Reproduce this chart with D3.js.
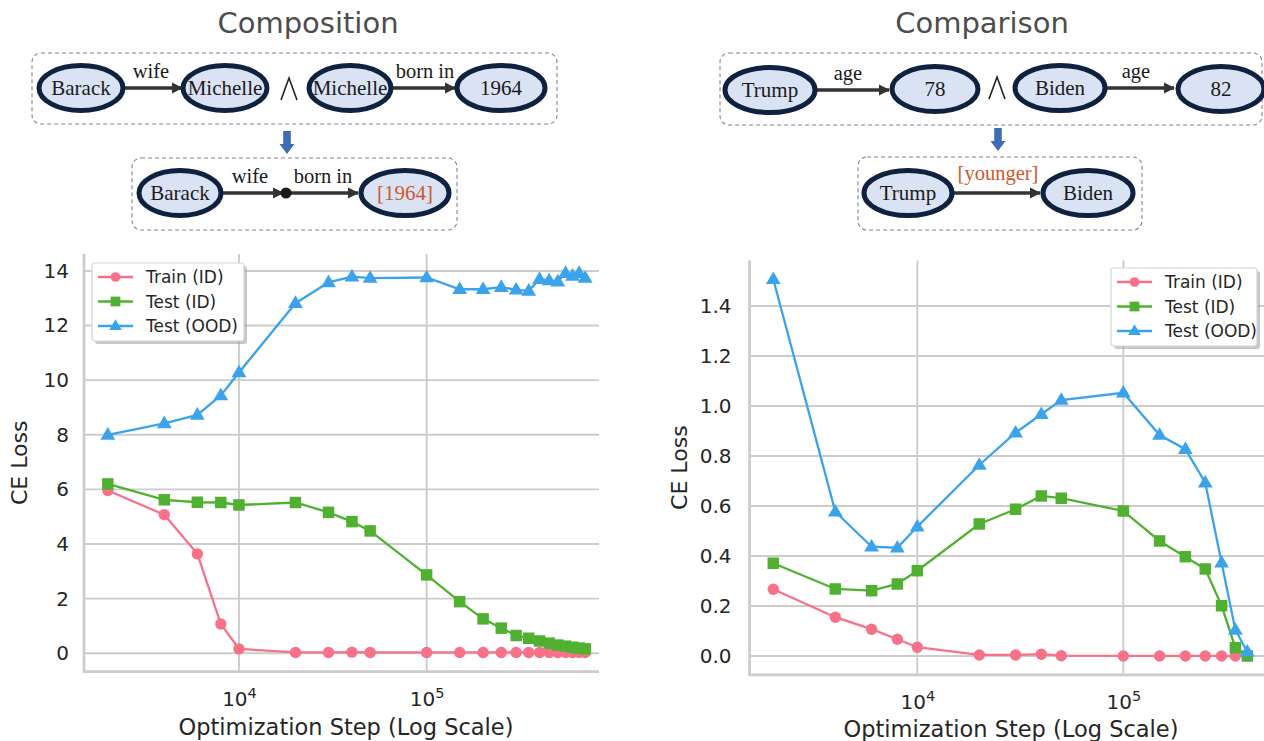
<!DOCTYPE html>
<html>
<head>
<meta charset="utf-8">
<script src="https://cdn.jsdelivr.net/npm/d3@7"></script>
<style>
  html, body { margin: 0; padding: 0; background: #fff; }
  svg { display: block; }
</style>
</head>
<body>
<svg id="fig" width="1264" height="741"></svg>
<script>
// ---- data: CE loss vs optimization step ----
const seriesNames = ["Train (ID)", "Test (ID)", "Test (OOD)"];
const seriesColors = ["#f77189", "#50b131", "#3ba3ec"];
const seriesMarkers = ["circle", "square", "triangle"];

const compSteps = [2000, 4000, 6000, 8000, 10000, 20000, 30000, 40000, 50000, 100000,
  150000, 200000, 250000, 300000, 350000, 400000, 450000, 500000, 550000, 600000, 650000, 700000];
const compTrain = [5.96, 5.07, 3.64, 1.07, 0.16, 0.03, 0.03, 0.04, 0.03, 0.03,
  0.03, 0.03, 0.03, 0.03, 0.03, 0.03, 0.03, 0.03, 0.03, 0.03, 0.03, 0.03];
const compTestID = [6.20, 5.62, 5.53, 5.52, 5.43, 5.52, 5.16, 4.82, 4.48, 2.87,
  1.89, 1.26, 0.92, 0.65, 0.55, 0.45, 0.37, 0.30, 0.26, 0.22, 0.19, 0.16];
const compTestOOD = [8.00, 8.42, 8.73, 9.44, 10.28, 12.82, 13.58, 13.79, 13.74, 13.76,
  13.33, 13.33, 13.41, 13.31, 13.27, 13.70, 13.65, 13.61, 13.92, 13.82, 13.92, 13.74];

const cmpSteps = [2000, 4000, 6000, 8000, 10000, 20000, 30000, 40000, 50000, 100000,
  150000, 200000, 250000, 300000, 350000, 400000];
const cmpTrain = [0.267, 0.155, 0.107, 0.067, 0.035, 0.004, 0.004, 0.007, 0.001, 0.0,
  0.0, 0.0, 0.0, 0.0, 0.0, 0.0];
const cmpTestID = [0.371, 0.268, 0.261, 0.288, 0.341, 0.528, 0.587, 0.640, 0.631, 0.580,
  0.460, 0.397, 0.348, 0.201, 0.033, 0.0];
const cmpTestOOD = [1.507, 0.577, 0.437, 0.433, 0.517, 0.764, 0.893, 0.967, 1.024, 1.053,
  0.884, 0.827, 0.693, 0.373, 0.104, 0.017];

const compYTicks = [0, 2, 4, 6, 8, 10, 12, 14];
const cmpYTicks = [0.0, 0.2, 0.4, 0.6, 0.8, 1.0, 1.2, 1.4];
const xTickValues = [1e4, 1e5];
const xLabel = "Optimization Step (Log Scale)";
const yLabel = "CE Loss";

const svg = d3.select("#fig");
const GRID = "#cccccc", TXT = "#262626";
const chartFont = "DejaVu Sans, sans-serif";
const serif = "Liberation Serif, Times New Roman, serif";

// ---------------- line charts ----------------
function lineChart(cfg) {
  const g = svg.append("g");
  const x = d3.scaleLog().domain(cfg.xDomain).range(cfg.xRange);
  const y = d3.scaleLinear().domain(cfg.yDomain).range(cfg.yRange);
  const x0 = cfg.xRange[0], x1 = cfg.xEnd, [yb, yt] = cfg.yRange;

  const clipId = cfg.id + "-clip";
  g.append("clipPath").attr("id", clipId).append("rect")
    .attr("x", x0).attr("y", yt).attr("width", x1 - x0).attr("height", yb - yt);

  // grid
  const grid = g.append("g");
  grid.selectAll("line.h").data(cfg.yTicks).join("line")
    .attr("x1", x0).attr("x2", x1)
    .attr("y1", d => y(d)).attr("y2", d => y(d))
    .attr("stroke", GRID).attr("stroke-width", 1.9);
  grid.selectAll("line.v").data(xTickValues).join("line")
    .attr("x1", d => x(d)).attr("x2", d => x(d))
    .attr("y1", yb).attr("y2", yt)
    .attr("stroke", GRID).attr("stroke-width", 1.9);

  // spines (left + bottom)
  g.append("line").attr("x1", x0).attr("x2", x0).attr("y1", yt).attr("y2", yb + 1)
    .attr("stroke", GRID).attr("stroke-width", 2.8);
  g.append("line").attr("x1", x0 - 1).attr("x2", x1).attr("y1", yb).attr("y2", yb)
    .attr("stroke", GRID).attr("stroke-width", 2.8);

  // y axis labels
  const yAxis = d3.axisLeft(y).tickValues(cfg.yTicks).tickSize(0).tickPadding(cfg.yPad)
    .tickFormat(cfg.yFormat);
  const ya = g.append("g").attr("transform", `translate(${x0},0)`).call(yAxis);
  ya.select(".domain").remove();
  ya.selectAll("text").attr("font-family", chartFont).attr("font-size", 20).attr("fill", TXT);

  // x axis labels with superscript exponents
  const xAxis = d3.axisBottom(x).tickValues(xTickValues).tickSize(0).tickPadding(20)
    .tickFormat(() => "");
  const xa = g.append("g").attr("transform", `translate(0,${yb})`).call(xAxis);
  xa.select(".domain").remove();
  xa.selectAll(".tick").each(function (d) {
    const t = d3.select(this).select("text")
      .attr("font-family", chartFont).attr("font-size", 20).attr("fill", TXT)
      .attr("dy", "0.71em").attr("y", 20);
    t.text(null);
    t.append("tspan").text("10");
    t.append("tspan").attr("dy", -8).attr("font-size", 14.5).text(Math.round(Math.log10(d)));
  });

  g.append("text").attr("x", cfg.xLabelX).attr("y", cfg.xLabelY)
    .attr("text-anchor", "middle").attr("font-family", chartFont)
    .attr("font-size", 22.5).attr("fill", TXT).text(xLabel);
  g.append("text")
    .attr("transform", `translate(${cfg.yLabelX},${(yb + yt) / 2}) rotate(-90)`)
    .attr("text-anchor", "middle").attr("font-family", chartFont)
    .attr("font-size", 22).attr("fill", TXT).text(yLabel);

  // series
  const plot = g.append("g").attr("clip-path", `url(#${clipId})`);
  const line = d3.line().x(d => x(d[0])).y(d => y(d[1]));
  cfg.series.forEach((vals, i) => {
    const pts = cfg.steps.map((s, k) => [s, vals[k]]);
    const sg = plot.append("g");
    sg.append("path").datum(pts).attr("d", line).attr("fill", "none")
      .attr("stroke", seriesColors[i]).attr("stroke-width", 2.3);
    drawMarkers(sg, pts.map(p => [x(p[0]), y(p[1])]), seriesMarkers[i], seriesColors[i]);
  });

  // legend
  const L = cfg.legend;
  const lg = g.append("g");
  lg.append("rect").attr("x", L.x + 3).attr("y", L.y + 3).attr("width", L.w).attr("height", L.h)
    .attr("rx", 3).attr("fill", "#9a9a9a").attr("opacity", 0.55);
  lg.append("rect").attr("x", L.x).attr("y", L.y).attr("width", L.w).attr("height", L.h)
    .attr("rx", 3).attr("fill", "#ffffff").attr("stroke", "#d6d6d6").attr("stroke-width", 1.2);
  seriesNames.forEach((name, i) => {
    const cy = L.y + 14 + i * 24.5;
    lg.append("line").attr("x1", L.x + 6).attr("x2", L.x + 41).attr("y1", cy).attr("y2", cy)
      .attr("stroke", seriesColors[i]).attr("stroke-width", 2.3);
    drawMarkers(lg, [[L.x + 23.5, cy]], seriesMarkers[i], seriesColors[i], 0.85);
    lg.append("text").attr("x", L.x + 54).attr("y", cy).attr("dy", "0.36em")
      .attr("font-family", chartFont).attr("font-size", 17).attr("fill", TXT).text(name);
  });
}

function drawMarkers(g, pts, kind, color, k = 1) {
  if (kind === "circle") {
    g.selectAll(null).data(pts).join("circle")
      .attr("cx", d => d[0]).attr("cy", d => d[1]).attr("r", 5.7 * k).attr("fill", color);
  } else if (kind === "square") {
    const s = 11.5 * k;
    g.selectAll(null).data(pts).join("rect")
      .attr("x", d => d[0] - s / 2).attr("y", d => d[1] - s / 2)
      .attr("width", s).attr("height", s).attr("fill", color);
  } else {
    const r = 7.8 * k;
    g.selectAll(null).data(pts).join("path")
      .attr("d", d => `M${d[0]},${d[1] - r}L${d[0] + r * 0.95},${d[1] + r * 0.62}L${d[0] - r * 0.95},${d[1] + r * 0.62}Z`)
      .attr("fill", color);
  }
}

lineChart({
  id: "comp",
  steps: compSteps, series: [compTrain, compTestID, compTestOOD],
  xDomain: [Math.pow(10, 3.174), Math.pow(10, 5.972)], xRange: [84, 609], xEnd: 599,
  yDomain: [-0.675, 14.62], yRange: [671.7, 254],
  yTicks: compYTicks, yFormat: d3.format("d"), yPad: 15,
  xLabelX: 346, xLabelY: 735, yLabelX: 27,
  legend: { x: 92, y: 263, w: 152, h: 78 }
});

lineChart({
  id: "cmp",
  steps: cmpSteps, series: [cmpTrain, cmpTestID, cmpTestOOD],
  xDomain: [Math.pow(10, 3.186), Math.pow(10, 5.717)], xRange: [749.6, 1271], xEnd: 1271,
  yDomain: [-0.0754, 1.582], yRange: [674.8, 260.5],
  yTicks: cmpYTicks, yFormat: d3.format(".1f"), yPad: 18,
  xLabelX: 1011, xLabelY: 737, yLabelX: 687,
  legend: { x: 1111, y: 268, w: 146, h: 78 }
});

// ---------------- relation diagrams ----------------
const NODE_FILL = "#dae3f3", NODE_STROKE = "#0e2240", EDGE = "#333333", HILITE = "#cc5a2c";

const defs = svg.append("defs");
defs.append("marker").attr("id", "head").attr("viewBox", "0 0 10 10")
  .attr("refX", 9).attr("refY", 5).attr("markerWidth", 3.4).attr("markerHeight", 3.4)
  .attr("orient", "auto")
  .append("path").attr("d", "M0,0L10,5L0,10Z").attr("fill", EDGE);

function box(x, y, w, h) {
  svg.append("rect").attr("x", x).attr("y", y).attr("width", w).attr("height", h).attr("rx", 9)
    .attr("fill", "none").attr("stroke", "#7f8691").attr("stroke-width", 1.1)
    .attr("stroke-dasharray", "4,3");
}
function node(cx, cy, rx, label, color) {
  svg.append("ellipse").attr("cx", cx).attr("cy", cy).attr("rx", rx).attr("ry", 22.5)
    .attr("fill", NODE_FILL).attr("stroke", NODE_STROKE).attr("stroke-width", 5);
  svg.append("text").attr("x", cx).attr("y", cy).attr("dy", "0.33em").attr("text-anchor", "middle")
    .attr("font-family", serif).attr("font-size", 21).attr("fill", color || "#1a1a1a").text(label);
}
function edge(x1, x2, y, label, lx, ly, color) {
  svg.append("line").attr("x1", x1).attr("x2", x2).attr("y1", y).attr("y2", y)
    .attr("stroke", EDGE).attr("stroke-width", 3.4).attr("marker-end", "url(#head)");
  if (label) svg.append("text").attr("x", lx).attr("y", ly).attr("text-anchor", "middle")
    .attr("font-family", serif).attr("font-size", 20.5).attr("fill", color || "#1a1a1a").text(label);
}
// logical "and" operator between the two facts
function wedge(x, y) {
  svg.append("path").attr("d", `M${x - 8},${y + 11}L${x},${y - 11}L${x + 8},${y + 11}`)
    .attr("fill", "none").attr("stroke", "#222").attr("stroke-width", 1.6);
}
function downArrow(x, y0, y1) {
  svg.append("path")
    .attr("d", `M${x - 3.8},${y0}H${x + 3.8}V${y1 - 10}H${x + 7.5}L${x},${y1}L${x - 7.5},${y1 - 10}H${x - 3.8}Z`)
    .attr("fill", "#3f6cb3");
}
function title(x, text) {
  svg.append("text").attr("x", x).attr("y", 33).attr("text-anchor", "middle")
    .attr("font-family", "DejaVu Sans, sans-serif").attr("font-size", 29).attr("fill", "#4d4d4d").text(text);
}

// Composition panel
title(308, "Composition");
box(32, 53, 525, 71);
edge(124, 182, 88, "wife", 151, 78);
edge(393, 455, 88, "born in", 425, 78);
node(81, 88, 42, "Barack");
node(225, 88, 42, "Michelle");
wedge(289, 89);
node(350, 88, 41, "Michelle");
node(501, 88, 44, "1964");
downArrow(287, 131, 154);
box(132, 158, 325, 72);
edge(222, 283, 193, "wife", 250, 183);
edge(289, 358, 193, "born in", 323, 183);
svg.append("circle").attr("cx", 286).attr("cy", 193).attr("r", 5.5).attr("fill", "#1a1a1a");
node(180, 193, 41, "Barack");
node(405, 193, 44, "[1964]", HILITE);

// Comparison panel
title(982, "Comparison");
box(720, 53, 542, 72);
edge(816, 889, 90, "age", 848, 80);
edge(1106, 1174, 88, "age", 1136, 78);
node(770, 90, 45, "Trump");
node(935, 89, 43, "78");
wedge(997, 88);
node(1060, 88, 45, "Biden");
node(1221, 89, 43, "82");
downArrow(998, 128, 151);
box(858, 157, 284, 73);
edge(953, 1040, 193, "[younger]", 998, 180, HILITE);
node(908, 193, 44, "Trump");
node(1088, 193, 45, "Biden");
</script>
</body>
</html>
